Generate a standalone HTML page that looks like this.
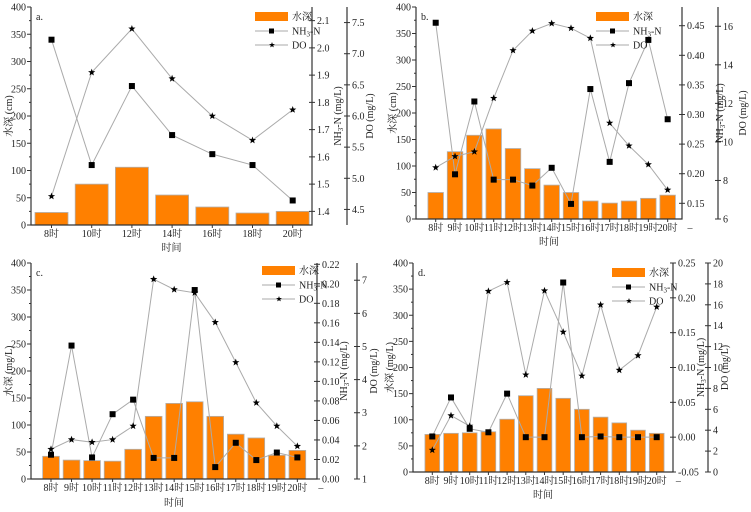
<!DOCTYPE html>
<html><head><meta charset="utf-8">
<style>
html,body{margin:0;padding:0;background:#fff;}
svg{display:block;}
text{font-family:"Liberation Serif","Noto Serif CJK SC","Noto Sans CJK SC",serif;font-size:10px;fill:#222;}
</style></head>
<body>
<svg id="fig" width="751" height="512" viewBox="0 0 751 512" xmlns="http://www.w3.org/2000/svg"></svg>
<script>
// Panel a
const catsA = ["8时","10时","12时","14时","16时","18时","20时"];
const depthA = [23,75,106,55,33,22,25];
const nh3A = [2.03,1.57,1.86,1.68,1.61,1.57,1.44];
const doA = [4.71,6.70,7.40,6.60,6.00,5.61,6.10];
const nh3TicksA = [1.4,1.5,1.6,1.7,1.8,1.9,2.0,2.1];
const doTicksA = [4.5,5.0,5.5,6.0,6.5,7.0,7.5];
// Panel b
const catsB = ["8时","9时","10时","11时","12时","13时","14时","15时","16时","17时","18时","19时","20时"];
const depthB = [50,127,158,170,133,95,64,50,34,30,34,39,45];
const nh3B = [0.455,0.199,0.322,0.190,0.190,0.180,0.210,0.149,0.343,0.220,0.353,0.426,0.292];
const doB = [8.67,9.25,9.49,12.27,14.75,15.76,16.15,15.90,15.38,10.98,9.80,8.83,7.51];
const nh3TicksB = [0.15,0.20,0.25,0.30,0.35,0.40,0.45];
const doTicksB = [6,8,10,12,14,16];
// Panel c
const catsC = catsB;
const depthC = [42,35,34,33,55,116,140,143,116,83,76,44,53];
const nh3C = [0.0249,0.1367,0.0221,0.0664,0.0813,0.0216,0.0216,0.1936,0.0122,0.0371,0.0194,0.0271,0.0221];
const doC = [1.90,2.19,2.11,2.19,2.60,7.03,6.72,6.62,5.73,4.52,3.30,2.60,1.99];
const nh3TicksC = [0,0.02,0.04,0.06,0.08,0.10,0.12,0.14,0.16,0.18,0.20,0.22];
const doTicksC = [1,2,3,4,5,6,7];
// Panel d
const catsD = catsB;
const depthD = [72,74,75,77,101,146,160,141,120,105,94,80,74];
const nh3D = [0.001,0.057,0.012,0.007,0.0625,0,0,0.222,0,0.001,0,0,0];
const doD = [2.1,5.4,4.4,17.3,18.15,9.3,17.35,13.4,9.2,16.0,9.75,11.15,15.8];
const nh3TicksD = [-0.05,0,0.05,0.10,0.15,0.20,0.25];
const doTicksD = [0,2,4,6,8,10,12,14,16,18,20];
const depthTicks = [0,50,100,150,200,250,300,350,400];

const NS="http://www.w3.org/2000/svg";
const svg=document.getElementById('fig');
function mk(tag,attrs,parent){const e=document.createElementNS(NS,tag);for(const k in attrs)e.setAttribute(k,attrs[k]);(parent||svg).appendChild(e);return e;}
function star(cx,cy,r){let p=[];for(let i=0;i<10;i++){const a=-Math.PI/2+i*Math.PI/5;const rr=i%2?r*0.42:r;p.push((cx+rr*Math.cos(a)).toFixed(1)+','+(cy+rr*Math.sin(a)).toFixed(1));}return p.join(' ');}

function panel(P){
  const g=mk('g',{});
  
  
  const yL=v=>P.bottom-(v/400)*(P.bottom-P.top);
  const yN=v=>P.bottom-(v-P.nmin)/(P.nmax-P.nmin)*(P.bottom-P.top);
  const yD=v=>P.bottom-(v-P.dmin)/(P.dmax-P.dmin)*(P.bottom-P.top);
  const xC=i=>P.x0+i*P.dx;
  P.depth.forEach((v,i)=>{
    const r=mk('rect',{x:xC(i)-P.bw/2,y:yL(v),width:P.bw,height:P.bottom-yL(v),fill:'#ff8000',stroke:'#b0b0b0','stroke-width':0.8},g);
    
    
  });
  const nl=mk('polyline',{points:P.nh3.map((v,i)=>xC(i)+','+yN(v)).join(' '),fill:'none',stroke:'#aaa','stroke-width':1},g);
  
  
  const dl=mk('polyline',{points:P.dov.map((v,i)=>xC(i)+','+yD(v)).join(' '),fill:'none',stroke:'#aaa','stroke-width':1},g);
  
  
  P.nh3.forEach((v,i)=>{
    const m=mk('rect',{x:xC(i)-3,y:yN(v)-3,width:6,height:6,fill:'#000'},g);
    
    
  });
  P.dov.forEach((v,i)=>{
    const m=mk('polygon',{points:star(xC(i),yD(v),3.8),fill:'#000'},g);
    
    
  });
  const ax={stroke:'#333','stroke-width':1.2,fill:'none'};
  mk('path',Object.assign({d:`M${P.left},${P.top}V${P.bottom}H${P.right}V${P.top}M${P.dox},${P.top}V${P.bottom}`},ax),g);
  depthTicks.forEach(v=>{
    mk('line',{x1:P.left-4,x2:P.left,y1:yL(v),y2:yL(v),stroke:'#333'},g);
    if(v<400)mk('line',{x1:P.left-2,x2:P.left,y1:yL(v+25),y2:yL(v+25),stroke:'#333'},g);
    const t=mk('text',{x:P.left-5,y:yL(v)+3.5,'text-anchor':'end'},g);t.textContent=v;
  });
  P.nt.forEach(v=>{
    mk('line',{x1:P.right-3,x2:P.right+3,y1:yN(v),y2:yN(v),stroke:'#333'},g);
    const t=mk('text',{x:P.right+5,y:yN(v)+3.5,'font-size':9.5},g);t.textContent=v.toFixed(P.nd);
  });
  P.dt.forEach(v=>{
    mk('line',{x1:P.dox-3,x2:P.dox+3,y1:yD(v),y2:yD(v),stroke:'#333'},g);
    const t=mk('text',{x:P.dox+5,y:yD(v)+3.5,'font-size':9.5},g);t.textContent=v.toFixed(P.dd);
  });
  P.cats.forEach((c,i)=>{
    mk('line',{x1:xC(i),x2:xC(i),y1:P.bottom,y2:P.bottom+3,stroke:'#333'},g);
    const t=mk('text',{x:xC(i),y:P.xly,'text-anchor':'middle'},g);t.textContent=c;
  });
  if(P.dash){const t=mk('text',{x:xC(P.cats.length)+3,y:P.xly,'text-anchor':'middle'},g);t.textContent='–';}
  const pl=mk('text',{x:P.left+5,y:P.top+13},g);pl.textContent=P.id+'.';
  
  const xt=mk('text',{x:(P.left+P.right)/2,y:P.xty,'text-anchor':'middle','font-size':11},g);xt.textContent='时间';
  
  const cy=(P.top+P.bottom)/2;
  const yt=mk('text',{x:P.ylx,y:cy,'text-anchor':'middle',transform:`rotate(-90 ${P.ylx} ${cy})`},g);yt.textContent=P.yl;
  
  const nt=mk('text',{x:P.nlx,y:cy,'text-anchor':'middle',transform:`rotate(-90 ${P.nlx} ${cy})`},g);
  nt.innerHTML='NH<tspan font-size="7" dy="2">3</tspan><tspan dy="-2">-N (mg/L)</tspan>';
  
  const dtt=mk('text',{x:P.dlx,y:cy,'text-anchor':'middle',transform:`rotate(-90 ${P.dlx} ${cy})`},g);dtt.textContent='DO (mg/L)';
  
  const L=mk('g',{},g);
  
  mk('rect',{x:P.lx,y:P.ly-4,width:33,height:9,fill:'#ff8000'},L);
  const t1=mk('text',{x:P.lx+37,y:P.ly+4,'font-size':11},L);t1.textContent='水深';
  const r2=P.ly+15,r3=P.ly+29;
  mk('line',{x1:P.lx,x2:P.lx+33,y1:r2,y2:r2,stroke:'#aaa'},L);
  mk('rect',{x:P.lx+14,y:r2-2.5,width:5,height:5,fill:'#000'},L);
  const t2=mk('text',{x:P.lx+37,y:r2+3.5},L);t2.innerHTML='NH<tspan font-size="7" dy="2">3</tspan><tspan dy="-2">-N</tspan>';
  mk('line',{x1:P.lx,x2:P.lx+33,y1:r3,y2:r3,stroke:'#aaa'},L);
  mk('polygon',{points:star(P.lx+17,r3,3),fill:'#000'},L);
  const t3=mk('text',{x:P.lx+37,y:r3+3.5},L);t3.textContent='DO';
}

panel({id:'a',cats:catsA,depth:depthA,nh3:nh3A,dov:doA,nt:nh3TicksA,dt:doTicksA,nd:1,dd:1,
  left:31,right:312,top:7,bottom:225,dox:347,nmin:1.35,nmax:2.15,dmin:4.25,dmax:7.75,
  x0:51.5,dx:40.2,bw:33,xly:237,xty:251,ylx:12,yl:'水深 (cm)',nlx:341,dlx:373,lx:255,ly:16,dash:false});
panel({id:'b',cats:catsB,depth:depthB,nh3:nh3B,dov:doB,nt:nh3TicksB,dt:doTicksB,nd:2,dd:0,
  left:416,right:682,top:7,bottom:219,dox:718,nmin:0.1235,nmax:0.4816,dmin:6,dmax:17,
  x0:435.7,dx:19.33,bw:15.5,xly:231,xty:245,ylx:396,yl:'水深 (cm)',nlx:723,dlx:746,lx:596,ly:16,dash:true});
panel({id:'c',cats:catsC,depth:depthC,nh3:nh3C,dov:doC,nt:nh3TicksC,dt:doTicksC,nd:2,dd:0,
  left:31,right:317,top:263,bottom:479,dox:357,nmin:0,nmax:0.2213,dmin:1,dmax:7.52,
  x0:51,dx:20.53,bw:16.7,xly:491,xty:506,ylx:12,yl:'水深 (mg/L)',nlx:347,dlx:377,lx:262,ly:270,dash:true});
panel({id:'d',cats:catsD,depth:depthD,nh3:nh3D,dov:doD,nt:nh3TicksD,dt:doTicksD,nd:2,dd:0,
  left:413,right:673,top:263,bottom:472,dox:708,nmin:-0.05,nmax:0.25,dmin:0,dmax:20,
  x0:432.3,dx:18.7,bw:14.7,xly:484,xty:498,ylx:393,yl:'水深 (mg/L)',nlx:704,dlx:728,lx:612,ly:272,dash:true});
</script>
</body></html>
